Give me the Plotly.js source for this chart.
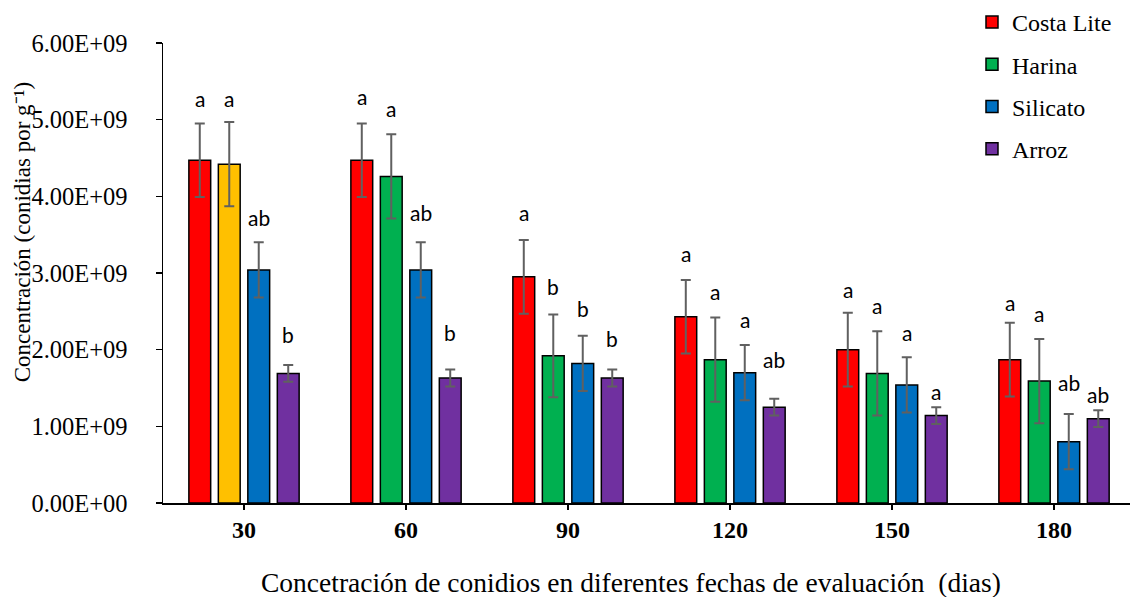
<!DOCTYPE html>
<html>
<head>
<meta charset="utf-8">
<script src="https://cdn.plot.ly/plotly-3.0.1.min.js"></script>
<style>body{margin:0;background:#fff}#chart{width:1130px;height:597px}</style>
</head>
<body>
<div id="chart"></div>
<script>
// ---------- data ----------
const categories = ['30', '60', '90', '120', '150', '180'];
const seriesNames = ['Costa Lite', 'Harina', 'Silicato', 'Arroz'];

const costaLite    = [4.47e9, 4.47e9, 2.95e9, 2.43e9, 2.00e9, 1.87e9];
const harina       = [4.42e9, 4.26e9, 1.92e9, 1.87e9, 1.69e9, 1.59e9];
const silicato     = [3.04e9, 3.04e9, 1.82e9, 1.70e9, 1.54e9, 0.80e9];
const arroz        = [1.69e9, 1.63e9, 1.63e9, 1.25e9, 1.14e9, 1.10e9];

const costaLiteErr = [0.48e9, 0.48e9, 0.48e9, 0.48e9, 0.48e9, 0.48e9];
const harinaErr    = [0.55e9, 0.55e9, 0.54e9, 0.55e9, 0.55e9, 0.55e9];
const silicatoErr  = [0.36e9, 0.36e9, 0.36e9, 0.36e9, 0.36e9, 0.36e9];
const arrozErr     = [0.11e9, 0.11e9, 0.11e9, 0.11e9, 0.11e9, 0.11e9];

const costaLiteLetters = ['a', 'a', 'a', 'a', 'a', 'a'];
const harinaLetters    = ['a', 'a', 'b', 'a', 'a', 'a'];
const silicatoLetters  = ['ab', 'ab', 'b', 'a', 'a', 'ab'];
const arrozLetters     = ['b', 'b', 'b', 'ab', 'a', 'ab'];

// height (data units) at which each letter label sits
const costaLiteLabelY = [5.28e9, 5.30e9, 3.79e9, 3.25e9, 2.79e9, 2.61e9];
const harinaLabelY    = [5.28e9, 5.14e9, 2.82e9, 2.76e9, 2.58e9, 2.47e9];
const silicatoLabelY  = [3.73e9, 3.79e9, 2.54e9, 2.39e9, 2.23e9, 1.57e9];
const arrozLabelY     = [2.20e9, 2.22e9, 2.14e9, 1.87e9, 1.45e9, 1.42e9];

const yTickVals  = [0, 1e9, 2e9, 3e9, 4e9, 5e9, 6e9];
const yTickText  = ['0.00E+00', '1.00E+09', '2.00E+09', '3.00E+09', '4.00E+09', '5.00E+09', '6.00E+09'];

const xTitle = 'Concetración de conidios en diferentes fechas de evaluación  (dias)';
const yTitle = 'Concentración (conidias por g\u207B\u00B9)';

// ---------- styles ----------
const RED = '#FF0000', YELLOW = '#FFC000', GREEN = '#00B050', BLUE = '#0070C0', PURPLE = '#7030A0';
const seriesColors = [
  RED,
  [YELLOW, GREEN, GREEN, GREEN, GREEN, GREEN],
  BLUE,
  PURPLE
];
const legendColors = [RED, GREEN, BLUE, PURPLE];
const BARGAP = 0.272, BARGROUPGAP = 0.26;
const ERR_COLOR = '#606060';
const SERIF = "'Liberation Serif', 'Times New Roman', serif";
const SANS = "Lato, Carlito, Calibri, sans-serif";

const values  = [costaLite, harina, silicato, arroz];
const errs    = [costaLiteErr, harinaErr, silicatoErr, arrozErr];
const letters = [costaLiteLetters, harinaLetters, silicatoLetters, arrozLetters];
const labelYs = [costaLiteLabelY, harinaLabelY, silicatoLabelY, arrozLabelY];

const traces = [];
seriesNames.forEach((name, k) => {
  traces.push({
    type: 'bar',
    name: name,
    x: categories,
    y: values[k],
    showlegend: false,
    marker: { color: seriesColors[k], line: { color: '#000000', width: 1.5 } },
    error_y: { type: 'data', array: errs[k], visible: true, color: ERR_COLOR, thickness: 2, width: 5 },
    hoverinfo: 'x+y+name'
  });
});
// legend entries (solid square swatches)
seriesNames.forEach((name, k) => {
  traces.push({
    type: 'scatter',
    mode: 'markers',
    name: name,
    x: [null],
    y: [null],
    legendgroup: 'g' + k,
    marker: { symbol: 'square', size: 12, color: legendColors[k], line: { color: '#000000', width: 1.5 } },
    hoverinfo: 'skip'
  });
});

const slot = (1 - BARGAP) / seriesNames.length;
const annotations = [];
seriesNames.forEach((name, k) => {
  categories.forEach((c, i) => {
    annotations.push({
      xref: 'x', yref: 'y',
      x: i + (k - (seriesNames.length - 1) / 2) * slot,
      y: labelYs[k][i],
      text: letters[k][i],
      showarrow: false,
      xanchor: 'center', yanchor: 'middle',
      font: { family: SANS, size: 21, color: '#000000' }
    });
  });
});
annotations.push({
  xref: 'paper', yref: 'paper', x: 0.484, y: -0.173,
  text: xTitle, showarrow: false, xanchor: 'center', yanchor: 'middle',
  font: { family: SERIF, size: 27.5, color: '#000000' }
});
annotations.push({
  xref: 'paper', yref: 'paper', x: 0, xshift: -141, y: 0.5885,
  text: yTitle, showarrow: false, textangle: -90, xanchor: 'center', yanchor: 'middle',
  font: { family: SERIF, size: 23, color: '#000000' }
});

const layout = {
  width: 1130, height: 597,
  margin: { l: 163, r: 0, t: 39, b: 94, pad: 0 },
  paper_bgcolor: '#ffffff', plot_bgcolor: '#ffffff',
  font: { family: SERIF, color: '#000000' },
  barmode: 'group', bargap: BARGAP, bargroupgap: BARGROUPGAP,
  showlegend: true,
  legend: {
    x: 0.8366, xanchor: 'left', y: 1.094, yanchor: 'top',
    font: { family: SERIF, size: 24, color: '#000000' },
    bgcolor: 'rgba(0,0,0,0)', borderwidth: 0,
    tracegroupgap: 8, itemclick: false
  },
  xaxis: {
    type: 'category',
    range: [-0.5, 5.469],
    showline: true, linecolor: '#000000', linewidth: 1.5,
    ticks: 'outside', ticklen: 5, tickwidth: 1.5, tickcolor: '#000000',
    tickfont: { family: SERIF, size: 24, color: '#000000', weight: 'bold' },
    showgrid: false, zeroline: false, fixedrange: true
  },
  yaxis: {
    range: [0, 6e9],
    tickvals: yTickVals, ticktext: yTickText,
    showline: true, linecolor: '#000000', linewidth: 1.5,
    ticks: 'outside', ticklen: 6, tickwidth: 1.5, tickcolor: '#000000',
    ticklabelstandoff: 23,
    tickfont: { family: SERIF, size: 24.5, color: '#000000' },
    showgrid: false, zeroline: false, fixedrange: true
  },
  annotations: annotations
};

Plotly.newPlot('chart', traces, layout, { displayModeBar: false, staticPlot: true });
</script>
</body>
</html>
